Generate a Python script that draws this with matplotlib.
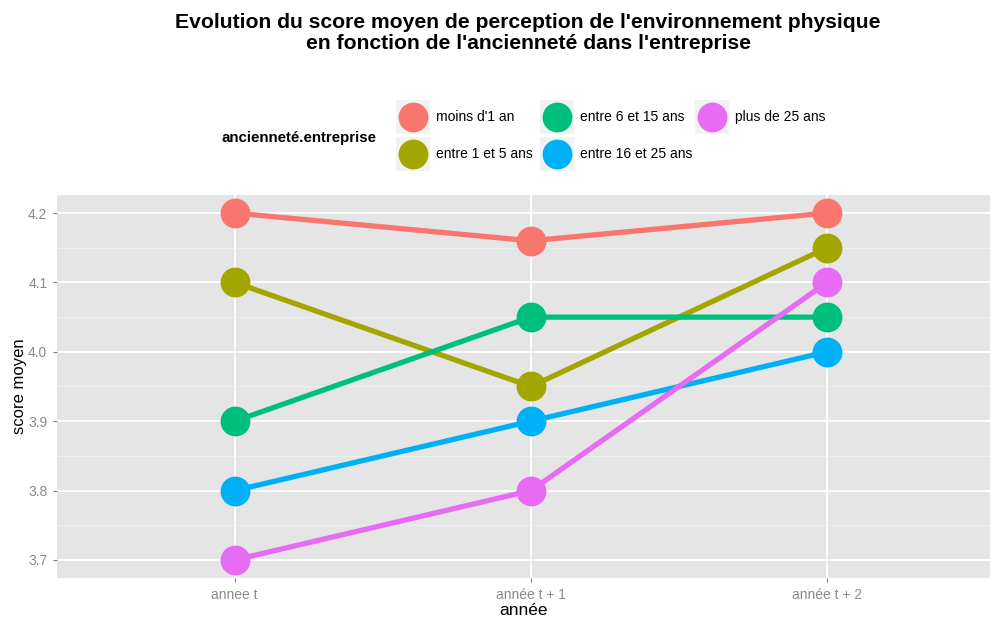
import numpy as np
import matplotlib
matplotlib.use("Agg")
import matplotlib.pyplot as plt
from matplotlib.patches import Rectangle
from matplotlib.lines import Line2D

plt.rcParams["font.family"] = ["Liberation Sans", "DejaVu Sans"]

annees = ["annee t", "année t + 1", "année t + 2"]
groupes = ["moins d'1 an", "entre 1 et 5 ans", "entre 6 et 15 ans",
           "entre 16 et 25 ans", "plus de 25 ans"]
moins_1 = [4.20, 4.16, 4.20]
entre_1_5 = [4.10, 3.95, 4.15]
entre_6_15 = [3.90, 4.05, 4.05]
entre_16_25 = [3.80, 3.90, 4.00]
plus_25 = [3.70, 3.80, 4.10]
series = [moins_1, entre_1_5, entre_6_15, entre_16_25, plus_25]
colors = ["#F8766D", "#A3A500", "#00BF7D", "#00B0F6", "#E76BF3"]

W, H = 992, 618
fig = plt.figure(figsize=(W / 100, H / 100), dpi=100)
# panel in pixels: left 57, right 990, top 195, bottom 578
ax = fig.add_axes([57 / W, 1 - 578 / H, (990 - 57) / W, (578 - 195) / H])
ax.set_facecolor("#E5E5E5")
for s in ax.spines.values():
    s.set_visible(False)

x = np.arange(len(annees))
for vals, c in zip(series, colors):
    ax.plot(x, vals, color=c, lw=3.8, solid_capstyle="butt", zorder=3)
for vals, c in zip(series, colors):
    ax.plot(x, vals, "o", color=c, ms=21.5, mew=0, zorder=4)

ax.set_xlim(-0.6, 2.55)
ax.set_ylim(3.674, 4.226)
ax.set_xticks(x)
ax.set_xticklabels(annees)
ax.set_yticks([3.7, 3.8, 3.9, 4.0, 4.1, 4.2])
ax.set_yticklabels(["3.7", "3.8", "3.9", "4.0", "4.1", "4.2"])
ax.set_yticks([3.75, 3.85, 3.95, 4.05, 4.15], minor=True)
ax.grid(True, which="major", color="white", lw=1.3, zorder=0)
ax.grid(True, which="minor", axis="y", color="#F2F2F2", lw=0.6, zorder=0)
ax.set_axisbelow(True)
ax.tick_params(which="major", length=3, width=0.8, color="#7F7F7F",
               labelcolor="#8A8A8A", labelsize=10, pad=4)
ax.tick_params(which="minor", length=0)
ax.set_xlabel("année", fontsize=12.5, labelpad=1)
ax.set_ylabel("score moyen", fontsize=12, labelpad=1)

fig.text(528 / W, 1 - 33 / H,
         "Evolution du score moyen de perception de l'environnement physique\n"
         "en fonction de l'ancienneté dans l'entreprise",
         ha="center", va="center", fontsize=15.2, fontweight="bold",
         linespacing=1.12)

# legend drawn in pixel coordinates on an overlay axes
lax = fig.add_axes([0, 0, 1, 1])
lax.set_xlim(0, W)
lax.set_ylim(H, 0)
lax.axis("off")
lax.text(222, 138, "ancienneté.entreprise", fontsize=10.8, fontweight="bold",
         ha="left", va="center")
key_x = [413, 557, 712]
key_y = [117, 154]
for i, (lab, c) in enumerate(zip(groupes, colors)):
    kx, ky = key_x[i // 2], key_y[i % 2]
    lax.add_patch(Rectangle((kx - 17, ky - 17), 34, 34, facecolor="#F2F2F2",
                            edgecolor="none"))
    lax.add_line(Line2D([kx], [ky], marker="o", ms=21.5, mew=0, color=c))
    lax.text(kx + 23, ky, lab, fontsize=10, ha="left", va="center")

fig.savefig("out.png", dpi=100)
